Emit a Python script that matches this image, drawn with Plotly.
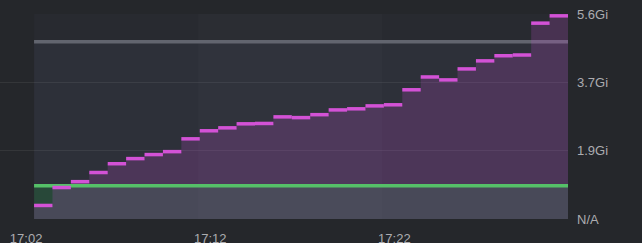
import plotly.graph_objects as go
import pandas as pd

# ---- data ----
start_time = "2024-01-01 17:03:05"
step_seconds = 60
usage_gi = [0.37, 0.86, 1.02, 1.27, 1.51, 1.65, 1.76, 1.84, 2.19, 2.41,
            2.49, 2.60, 2.61, 2.79, 2.77, 2.85, 2.98, 3.01, 3.09, 3.12,
            3.53, 3.88, 3.80, 4.10, 4.32, 4.46, 4.48, 5.35, 5.55]
request_gi = 0.91
limit_gi = 4.84
y_tick_vals = [0, 5.6 / 3, 5.6 * 2 / 3, 5.6]
y_tick_text = ["N/A", "1.9Gi", "3.7Gi", "5.6Gi"]
x_tick_vals = ["2024-01-01 17:02:00", "2024-01-01 17:12:00", "2024-01-01 17:22:00"]
x_tick_text = ["17:02", "17:12", "17:22"]
band_start = "2024-01-01 17:12:00"
band_end = "2024-01-01 17:22:00"
range_start = "2024-01-01 17:01:14"

times = list(pd.date_range(start_time, periods=len(usage_gi) + 1, freq=f"{step_seconds}s"))
t_end = times[-1]
t0 = times[0]

fill_x = times
fill_y = usage_gi + [usage_gi[-1]]

seg_x, seg_y = [], []
for i, v in enumerate(usage_gi):
    seg_x += [times[i], times[i + 1], None]
    seg_y += [v, v, None]

fig = go.Figure()

# limit fill + line
fig.add_trace(go.Scatter(x=[t0, t_end], y=[limit_gi, limit_gi], mode="lines",
                         line=dict(color="#62656f", width=3.5),
                         fill="tozeroy", fillcolor="rgba(150,170,215,0.055)",
                         hoverinfo="skip"))
# request fill
fig.add_trace(go.Scatter(x=[t0, t_end], y=[request_gi, request_gi], mode="lines",
                         line=dict(color="rgba(0,0,0,0)", width=0),
                         fill="tozeroy", fillcolor="rgba(30,135,60,0.27)",
                         hoverinfo="skip"))
# usage fill
fig.add_trace(go.Scatter(x=fill_x, y=fill_y, mode="lines",
                         line=dict(color="rgba(0,0,0,0)", width=0, shape="hv"),
                         fill="tozeroy", fillcolor="rgba(195,80,210,0.21)",
                         hoverinfo="skip"))
# request line on top
fig.add_trace(go.Scatter(x=[t0, t_end], y=[request_gi, request_gi], mode="lines",
                         line=dict(color="#55c068", width=3.5),
                         hoverinfo="skip"))
# usage step segments
fig.add_trace(go.Scatter(x=seg_x, y=seg_y, mode="lines",
                         line=dict(color="#d352d6", width=3.5),
                         connectgaps=False, hoverinfo="skip"))

fig.add_shape(type="rect", xref="x", yref="y", x0=t0, x1=t_end, y0=0, y1=5.6,
              fillcolor="rgba(150,170,215,0.03)", line=dict(width=0), layer="below")
fig.add_shape(type="rect", xref="x", yref="y", x0=band_start, x1=band_end, y0=0, y1=5.6,
              fillcolor="rgba(150,170,215,0.025)", line=dict(width=0), layer="below")

fig.update_layout(
    width=642, height=243,
    margin=dict(l=0, r=74, t=14, b=24, autoexpand=False),
    paper_bgcolor="#25272b", plot_bgcolor="#25272b",
    showlegend=False,
    font=dict(family="Liberation Sans, Arial, sans-serif", size=13, color="#acacb0"),
    xaxis=dict(type="date", range=[range_start, t_end], tickvals=x_tick_vals,
               ticktext=x_tick_text, showgrid=False, zeroline=False, showline=False,
               ticks="", ticklabelshift=12, ticklabelstandoff=10, automargin=False,
               tickfont=dict(size=13, color="#acacb0")),
    yaxis=dict(range=[0, 5.6], side="right", tickvals=y_tick_vals, ticktext=y_tick_text,
               showgrid=True, gridcolor="rgba(255,255,255,0.07)", gridwidth=1,
               zeroline=False, showline=False, ticks="", ticklabelstandoff=8,
               automargin=False, tickfont=dict(size=13, color="#acacb0")),
)

fig.write_html("out.html")
